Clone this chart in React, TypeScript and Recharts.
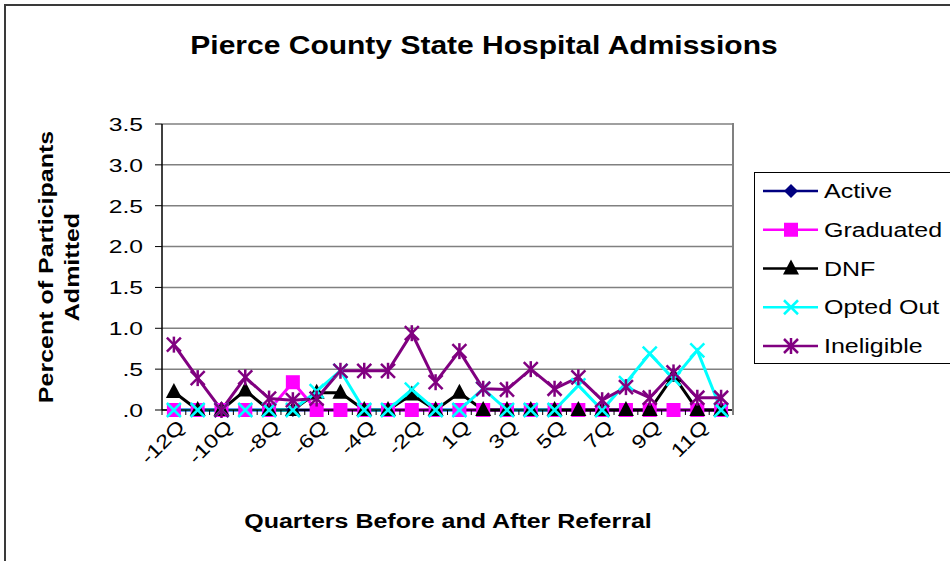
import React from 'react';
import { LineChart, Line, XAxis, YAxis, CartesianGrid } from 'recharts';

// Trimestres antes y despues de la derivacion
const quarters = [
  '-12Q', '-11Q', '-10Q', '-9Q', '-8Q', '-7Q', '-6Q', '-5Q', '-4Q', '-3Q', '-2Q', '-1Q',
  '1Q', '2Q', '3Q', '4Q', '5Q', '6Q', '7Q', '8Q', '9Q', '10Q', '11Q', '12Q',
];

const active = [0, 0, 0, 0, 0, 0, 0, 0, 0, 0, 0, 0, 0, 0, 0, 0, 0, 0, 0, 0, 0, 0, 0, 0];
const graduated = [0, 0, 0, 0, 0, 0.34, 0, 0, 0, 0, 0, 0, 0, 0, 0, 0, 0, 0, 0, 0, 0, 0, 0, 0];
const dnf = [0.22, 0, 0, 0.24, 0, 0, 0.21, 0.21, 0, 0, 0.19, 0, 0.21, 0, 0, 0, 0, 0, 0, 0, 0, 0.42, 0, 0];
const optedOut = [0, 0, 0, 0, 0, 0, 0.23, 0.48, 0, 0, 0.25, 0, 0, 0.26, 0, 0, 0, 0.3, 0, 0.33, 0.69, 0.38, 0.73, 0];
const ineligible = [0.8, 0.39, 0, 0.4, 0.14, 0.12, 0.14, 0.48, 0.48, 0.48, 0.94, 0.34, 0.72, 0.26, 0.25, 0.5, 0.26, 0.4, 0.12, 0.28, 0.15, 0.46, 0.15, 0.15];

const yTicks = [0, 0.5, 1, 1.5, 2, 2.5, 3, 3.5];

const data = quarters.map((q, i) => ({
  q,
  active: active[i],
  graduated: graduated[i],
  dnf: dnf[i],
  optedOut: optedOut[i],
  ineligible: ineligible[i],
}));

const FONT = '"Liberation Sans", Arial, sans-serif';

// Marcadores estilo Excel
const Marker = ({ kind, x, y, color }: { kind: string; x: number; y: number; color: string }) => {
  if (kind === 'diamond') {
    return <polygon points={`${x},${y - 7} ${x + 7},${y} ${x},${y + 7} ${x - 7},${y}`} fill={color} />;
  }
  if (kind === 'square') {
    return <rect x={x - 7} y={y - 7} width={14} height={14} fill={color} />;
  }
  if (kind === 'triangle') {
    return <polygon points={`${x},${y - 9} ${x + 8},${y + 6} ${x - 8},${y + 6}`} fill={color} />;
  }
  if (kind === 'x') {
    return (
      <g stroke={color} strokeWidth={2.5}>
        <line x1={x - 7} y1={y - 7} x2={x + 7} y2={y + 7} />
        <line x1={x - 7} y1={y + 7} x2={x + 7} y2={y - 7} />
      </g>
    );
  }
  return (
    <g stroke={color} strokeWidth={2.5}>
      <line x1={x - 7} y1={y - 7} x2={x + 7} y2={y + 7} />
      <line x1={x - 7} y1={y + 7} x2={x + 7} y2={y - 7} />
      <line x1={x} y1={y - 8} x2={x} y2={y + 8} />
    </g>
  );
};

const series = [
  { key: 'active', name: 'Active', color: '#000080', marker: 'diamond' },
  { key: 'graduated', name: 'Graduated', color: '#FF00FF', marker: 'square' },
  { key: 'dnf', name: 'DNF', color: '#000000', marker: 'triangle' },
  { key: 'optedOut', name: 'Opted Out', color: '#00FFFF', marker: 'x' },
  { key: 'ineligible', name: 'Ineligible', color: '#800080', marker: 'star' },
];

const BAND = 571 / 24;

const XTick = (props: any) => {
  const { x, y, index, payload } = props;
  return (
    <g>
      <line x1={x - BAND / 2} y1={y} x2={x - BAND / 2} y2={y + 5} stroke="#000" />
      {index === quarters.length - 1 && (
        <line x1={x + BAND / 2} y1={y} x2={x + BAND / 2} y2={y + 5} stroke="#000" />
      )}
      {index % 2 === 0 && (
        <g transform={`translate(${x + 12},${y + 18}) rotate(-45) scale(1.25,1)`}>
          <text x={0} y={0} textAnchor="end" fontSize={19} fontFamily={FONT} fill="#000">
            {payload.value}
          </text>
        </g>
      )}
    </g>
  );
};

const YTick = (props: any) => {
  const { x, y, payload } = props;
  const v = payload.value;
  const label = v < 1 ? (v === 0 ? '.0' : '.5') : v.toFixed(1);
  return (
    <g transform={`translate(${x - 3},${y}) scale(1.3,1)`}>
      <text x={0} y={0} dy="0.36em" textAnchor="end" fontSize={19} fontFamily={FONT} fill="#000">
        {label}
      </text>
    </g>
  );
};

export default function App() {
  return (
    <div style={{ position: 'absolute', left: 0, top: 0, width: 950, height: 561, overflow: 'hidden', background: '#fff', fontFamily: FONT }}>
      {/* borde exterior del grafico */}
      <div style={{ position: 'absolute', left: 4, top: 4, width: 1000, height: 700, border: '2px solid #3a3a3a' }} />

      <div style={{ position: 'absolute', left: 484, top: 45, transform: 'translate(-50%,-50%) scaleX(1.2)', fontSize: 25, fontWeight: 'bold', whiteSpace: 'nowrap' }}>
        Pierce County State Hospital Admissions
      </div>

      <div style={{ position: 'absolute', left: 59, top: 267, transform: 'translate(-50%,-50%) rotate(-90deg) scaleX(1.25)', fontSize: 20, fontWeight: 'bold', whiteSpace: 'nowrap', textAlign: 'center', lineHeight: '26px' }}>
        Percent of Participants
        <br />
        Admitted
      </div>

      <div style={{ position: 'absolute', left: 448, top: 521, transform: 'translate(-50%,-50%) scaleX(1.25)', fontSize: 20, fontWeight: 'bold', whiteSpace: 'nowrap' }}>
        Quarters Before and After Referral
      </div>

      <div style={{ position: 'absolute', left: 0, top: 0 }}>
        <LineChart width={950} height={561} data={data} margin={{ top: 124, right: 217, bottom: 121, left: 0 }}>
          <CartesianGrid vertical={false} stroke="#808080" strokeWidth={1.5} />
          <XAxis
            dataKey="q"
            interval={0}
            tickSize={0}
            tickMargin={0}
            height={30}
            padding={{ left: BAND / 2, right: BAND / 2 }}
            axisLine={{ stroke: '#000', strokeWidth: 1.5 }}
            tickLine={false}
            tick={<XTick />}
          />
          <YAxis
            domain={[0, 3.5]}
            ticks={yTicks}
            width={162}
            tickSize={7}
            tickMargin={9}
            axisLine={{ stroke: '#000', strokeWidth: 1.5 }}
            tickLine={{ stroke: '#000' }}
            tick={<YTick />}
          />
          {series.map(s => (
            <Line
              key={s.key}
              type="linear"
              dataKey={s.key}
              name={s.name}
              stroke={s.color}
              strokeWidth={3}
              isAnimationActive={false}
              activeDot={false}
              dot={(p: any) => <Marker key={`${s.key}-${p.index}`} kind={s.marker} x={p.cx} y={p.cy} color={s.color} />}
            />
          ))}
        </LineChart>
      </div>

      {/* borde derecho del area de trazado */}
      <div style={{ position: 'absolute', left: 732, top: 123, width: 2, height: 288, background: '#808080' }} />

      {/* leyenda */}
      <div style={{ position: 'absolute', left: 754, top: 172, width: 220, height: 190, border: '1px solid #000', background: '#fff' }}>
        <svg width={220} height={190}>
          {series.map((s, i) => {
            const cy = 18 + i * 38.75;
            return (
              <g key={s.key}>
                <line x1={8} y1={cy} x2={63} y2={cy} stroke={s.color} strokeWidth={2.5} />
                <Marker kind={s.marker} x={36} y={cy} color={s.color} />
                <g transform={`translate(69,${cy}) scale(1.25,1)`}>
                  <text x={0} y={0} dy="0.36em" fontSize={20} fontFamily={FONT} fill="#000">{s.name}</text>
                </g>
              </g>
            );
          })}
        </svg>
      </div>
    </div>
  );
}
